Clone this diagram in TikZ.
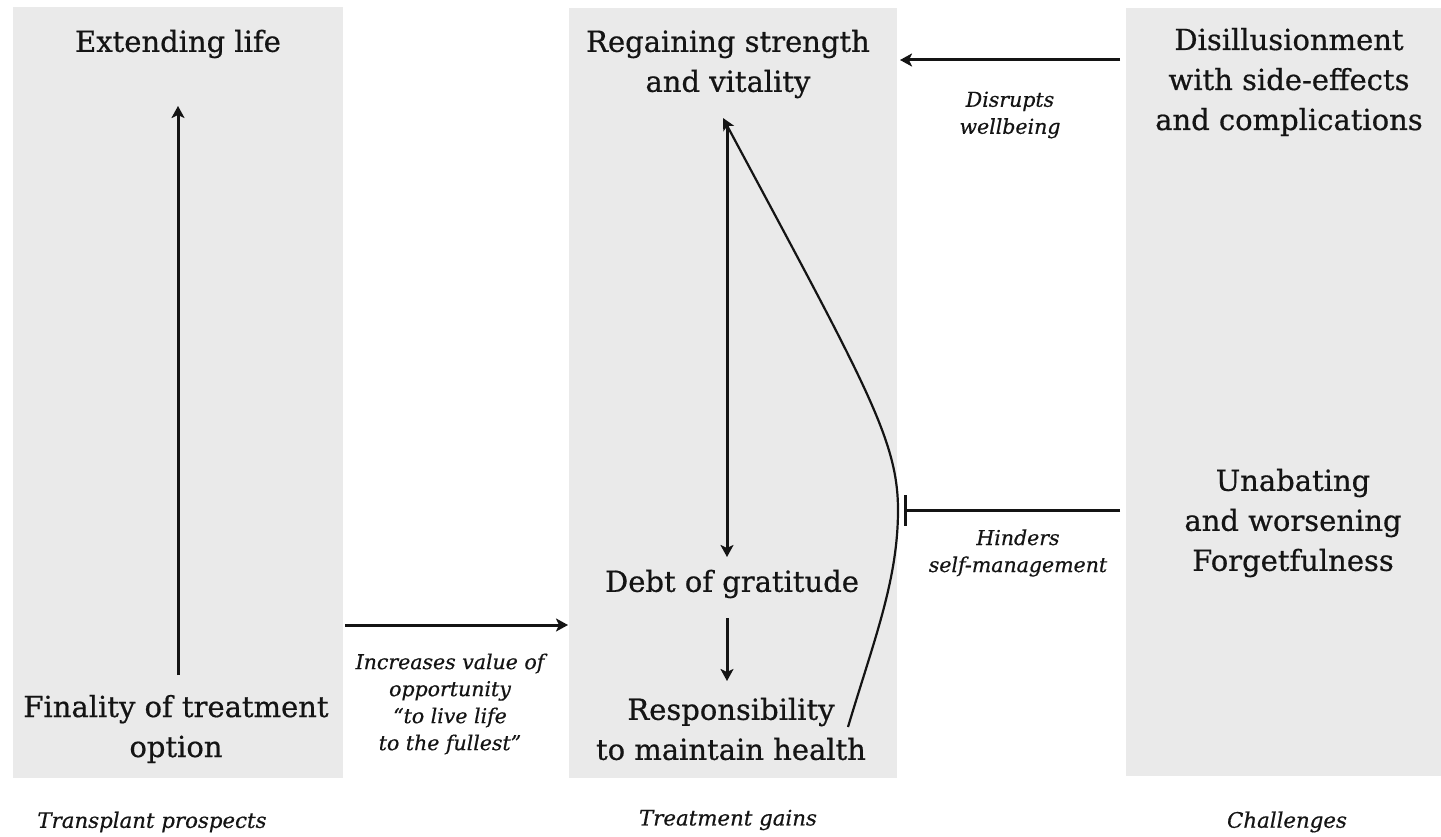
\documentclass[tikz,border=0pt]{standalone}
\usepackage{fontspec}
\setmainfont{DejaVu Serif}[FakeBold=0.6]
\usetikzlibrary{arrows.meta}
\definecolor{panelgray}{RGB}{234,234,234}
\definecolor{ink}{RGB}{20,20,20}
\tikzset{
  panel/.style={fill=panelgray, draw=none, inner sep=0pt, outer sep=0pt},
  main/.style={font=\fontsize{29}{40}\selectfont, align=center, inner sep=0pt, text=ink},
  lab/.style={font=\itshape\fontsize{20.5}{27}\selectfont, align=center, inner sep=0pt, text=ink},
  capt/.style={font=\itshape\fontsize{21.3}{25}\selectfont, inner sep=0pt, text=ink},
  arr/.style={draw=ink, line width=3pt, -{Stealth[length=12pt,width=13pt,inset=3pt]}},
  curvearr/.style={draw=ink, line width=2.2pt, -{Stealth[length=12pt,width=12pt,inset=3pt]}},
  barend/.style={draw=ink, line width=3pt, -{Bar[width=31pt,line width=3pt]}}
}
\begin{document}
\begin{tikzpicture}[x=1pt,y=-1pt]
\useasboundingbox (0,0) rectangle (1441,837);
% panels
\node[panel, minimum width=330pt, minimum height=771pt] (p1) at (178,392.5) {};
\node[panel, minimum width=328pt, minimum height=770pt] (p2) at (733,393) {};
\node[panel, minimum width=315pt, minimum height=768pt] (p3) at (1283.5,392) {};
% texts
\node[main] (ext) at (178,44) {Extending life};
\node[main] (fin) at (176,729) {Finality of treatment\\option};
\node[main] (reg) at (728,64) {Regaining strength\\and vitality};
\node[main] (debt) at (732,584) {Debt of gratitude};
\node[main] (resp) at (731,729) {Responsibility\\to maintain health};
\node[main] (dis) at (1289,82) {Disillusionment\\with side-effects\\and complications};
\node[main] (una) at (1293,523) {Unabating\\and worsening\\Forgetfulness};
% labels
\node[lab] (l1) at (450,704) {Increases value of\\opportunity\\``to live life\\to the fullest''};
\node[lab] (l2) at (1010,115) {Disrupts\\wellbeing};
\node[lab] (l3) at (1018,553) {Hinders\\self-management};
% captions
\node[capt] (c1) at (152,822) {Transplant prospects};
\node[capt] (c2) at (728,820) {Treatment gains};
\node[capt] (c3) at (1287,822) {Challenges};
% connectors
\draw[arr] (ext.south |- 0,675) -- (ext.south |- 0,106);
\draw[arr] ([xshift=2pt]p1.east |- 0,625) -- ([xshift=-1pt]p2.west |- 0,625);
\draw[arr] ([xshift=-6pt]p3.west |- 0,60) -- ([xshift=3pt]p2.east |- 0,60);
\draw[arr] (727,124) -- (727,557);
\draw[arr] (727,618) -- (727,681);
\coordinate (cs) at (848,727);
\coordinate (cm) at (898,510);
\coordinate (ct) at (723,118);
\draw[curvearr] (cs) .. controls (874,640) and (898,580) .. (cm) .. controls (898,440) and (866,385) .. (ct);
\draw[barend] ([xshift=-6pt]p3.west |- cm) -- ([xshift=6pt]cm);
\end{tikzpicture}
\end{document}
